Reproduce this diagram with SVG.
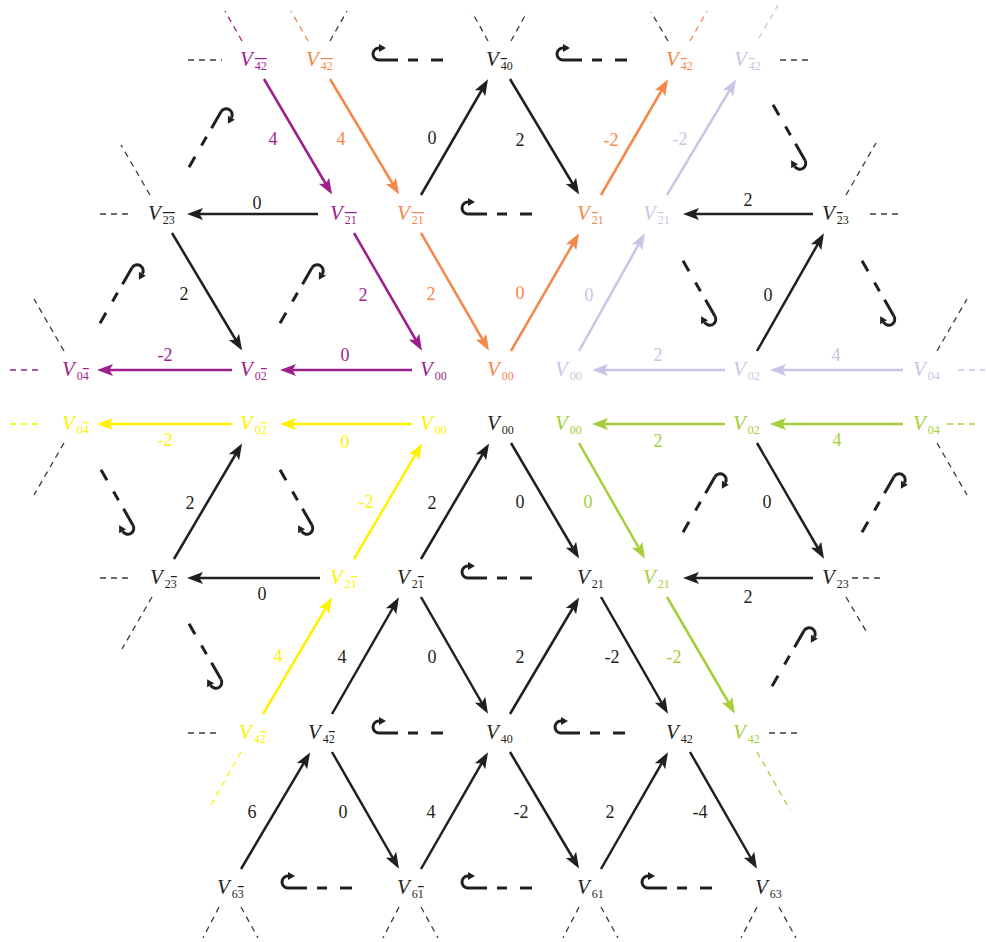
<svg xmlns="http://www.w3.org/2000/svg" xmlns:xlink="http://www.w3.org/1999/xlink" width="986" height="942" viewBox="0 0 986 942">
<style>
.n{font-family:"Liberation Serif","Times New Roman",serif;font-size:21px;font-style:italic}
.sb{font-size:12px;font-style:normal}
.o{text-decoration:overline}
.w{font-family:"Liberation Serif","Times New Roman",serif;font-size:18px;text-anchor:middle}
.a{fill:none;stroke-width:2.5}
.stub{fill:none;stroke-width:1.3;stroke-dasharray:6 5}
.k{stroke:#231f20}.kf{fill:#231f20}
.p{stroke:#9c1f8c}.pf{fill:#9c1f8c}
.or{stroke:#f5874b}.of{fill:#f5874b}
.l{stroke:#c8c6e6}.lf{fill:#c8c6e6}
.y{stroke:#fff200}.yf{fill:#fff200}
.g{stroke:#a6ce39}.gf{fill:#a6ce39}
.d{stroke:#3a3a3a}
</style>
<defs>
<marker id="mk" markerUnits="userSpaceOnUse" markerWidth="20" markerHeight="20" refX="6" refY="0" orient="auto" overflow="visible"><path d="M0,-6 L16,0 L0,6 L3.5,0 Z" fill="#231f20"/></marker>
<marker id="mp" markerUnits="userSpaceOnUse" markerWidth="20" markerHeight="20" refX="6" refY="0" orient="auto" overflow="visible"><path d="M0,-6 L16,0 L0,6 L3.5,0 Z" fill="#9c1f8c"/></marker>
<marker id="mo" markerUnits="userSpaceOnUse" markerWidth="20" markerHeight="20" refX="6" refY="0" orient="auto" overflow="visible"><path d="M0,-6 L16,0 L0,6 L3.5,0 Z" fill="#f5874b"/></marker>
<marker id="ml" markerUnits="userSpaceOnUse" markerWidth="20" markerHeight="20" refX="6" refY="0" orient="auto" overflow="visible"><path d="M0,-6 L16,0 L0,6 L3.5,0 Z" fill="#c8c6e6"/></marker>
<marker id="my" markerUnits="userSpaceOnUse" markerWidth="20" markerHeight="20" refX="6" refY="0" orient="auto" overflow="visible"><path d="M0,-6 L16,0 L0,6 L3.5,0 Z" fill="#fff200"/></marker>
<marker id="mg" markerUnits="userSpaceOnUse" markerWidth="20" markerHeight="20" refX="6" refY="0" orient="auto" overflow="visible"><path d="M0,-6 L16,0 L0,6 L3.5,0 Z" fill="#a6ce39"/></marker>
<g id="hook">
<path d="M-28,0 L36,0" fill="none" stroke="#231f20" stroke-width="3" stroke-dasharray="19 10 10 13 12"/>
<path d="M-28,0 A6,6 0 0 1 -28,-12" fill="none" stroke="#231f20" stroke-width="3"/>
<path d="M-21,-12 L-28,-16 L-28,-8 Z" fill="#231f20"/>
</g>
</defs>

<g id="connectors">
<!-- diagonal arrows -->
<path class="a k" marker-end="url(#mk)" d="M421,195 L483,88"/>
<path class="a k" marker-end="url(#mk)" d="M510,79 L574,186"/>
<path class="a p" marker-end="url(#mp)" d="M264,79 L327,186"/>
<path class="a or" marker-end="url(#mo)" d="M330,79 L394,186"/>
<path class="a p" marker-end="url(#mp)" d="M354,233 L417,342"/>
<path class="a or" marker-end="url(#mo)" d="M421,233 L484,342"/>
<path class="a or" marker-end="url(#mo)" d="M511,351 L574,242"/>
<path class="a or" marker-end="url(#mo)" d="M601,195 L663,88"/>
<path class="a l" marker-end="url(#ml)" d="M579,351 L640,242"/>
<path class="a l" marker-end="url(#ml)" d="M667,195 L731,88"/>
<path class="a k" marker-end="url(#mk)" d="M172,233 L237,342"/>
<path class="a k" marker-end="url(#mk)" d="M757,351 L819,242"/>
<path class="a k" marker-end="url(#mk)" d="M174,559 L237,452"/>
<path class="a y" marker-end="url(#my)" d="M354,559 L417,452"/>
<path class="a y" marker-end="url(#my)" d="M263,714 L327,606"/>
<path class="a k" marker-end="url(#mk)" d="M421,559 L484,452"/>
<path class="a k" marker-end="url(#mk)" d="M511,443 L574,550"/>
<path class="a g" marker-end="url(#mg)" d="M579,443 L640,550"/>
<path class="a k" marker-end="url(#mk)" d="M757,443 L819,550"/>
<path class="a g" marker-end="url(#mg)" d="M667,597 L730,705"/>
<path class="a k" marker-end="url(#mk)" d="M601,597 L663,705"/>
<path class="a k" marker-end="url(#mk)" d="M510,714 L574,606"/>
<path class="a k" marker-end="url(#mk)" d="M421,597 L483,705"/>
<path class="a k" marker-end="url(#mk)" d="M332,714 L394,606"/>
<path class="a k" marker-end="url(#mk)" d="M241,869 L305,761"/>
<path class="a k" marker-end="url(#mk)" d="M332,752 L394,860"/>
<path class="a k" marker-end="url(#mk)" d="M421,869 L483,761"/>
<path class="a k" marker-end="url(#mk)" d="M510,752 L574,860"/>
<path class="a k" marker-end="url(#mk)" d="M601,869 L663,761"/>
<path class="a k" marker-end="url(#mk)" d="M690,752 L752,860"/>
<!-- horizontal arrows -->
<path class="a k" marker-end="url(#mk)" d="M318,214 L197,214"/>
<path class="a k" marker-end="url(#mk)" d="M813,214 L693,214"/>
<path class="a p" marker-end="url(#mp)" d="M412,370 L290,370"/>
<path class="a p" marker-end="url(#mp)" d="M232,370 L107,370"/>
<path class="a l" marker-end="url(#ml)" d="M725,370 L602,370"/>
<path class="a l" marker-end="url(#ml)" d="M903,370 L780,370"/>
<path class="a y" marker-end="url(#my)" d="M412,424 L290,424"/>
<path class="a y" marker-end="url(#my)" d="M232,424 L107,424"/>
<path class="a g" marker-end="url(#mg)" d="M725,424 L602,424"/>
<path class="a g" marker-end="url(#mg)" d="M903,424 L780,424"/>
<path class="a k" marker-end="url(#mk)" d="M320,578 L197,578"/>
<path class="a k" marker-end="url(#mk)" d="M813,578 L693,578"/>
<!-- hooked dashed edges -->
<use xlink:href="#hook" transform="translate(407,60)"/>
<use xlink:href="#hook" transform="translate(591,60)"/>
<use xlink:href="#hook" transform="translate(496,214)"/>
<use xlink:href="#hook" transform="translate(496,578)"/>
<use xlink:href="#hook" transform="translate(407,733)"/>
<use xlink:href="#hook" transform="translate(589,733)"/>
<use xlink:href="#hook" transform="translate(316,888)"/>
<use xlink:href="#hook" transform="translate(496,888)"/>
<use xlink:href="#hook" transform="translate(676,888)"/>
<use xlink:href="#hook" transform="translate(207,136) rotate(120)"/>
<use xlink:href="#hook" transform="translate(118,292) rotate(120)"/>
<use xlink:href="#hook" transform="translate(298,292) rotate(120)"/>
<use xlink:href="#hook" transform="translate(791,136) rotate(240)"/>
<use xlink:href="#hook" transform="translate(701,292) rotate(240)"/>
<use xlink:href="#hook" transform="translate(880,292) rotate(240)"/>
<use xlink:href="#hook" transform="translate(119,501) rotate(240)"/>
<use xlink:href="#hook" transform="translate(298,501) rotate(240)"/>
<use xlink:href="#hook" transform="translate(701,501) rotate(120)"/>
<use xlink:href="#hook" transform="translate(880,501) rotate(120)"/>
<use xlink:href="#hook" transform="translate(790,655) rotate(120)"/>
<use xlink:href="#hook" transform="translate(207,655) rotate(240)"/>
<!-- dashed stubs -->
<path class="stub p" d="M242,41 L225,11"/>
<path class="stub d" d="M188,60 L222,60"/>
<path class="stub or" d="M308,41 L291,11"/>
<path class="stub d" d="M330,41 L347,11"/>
<path class="stub d" d="M488,41 L472,12"/>
<path class="stub d" d="M511,41 L527,12"/>
<path class="stub d" d="M668,41 L651,12"/>
<path class="stub or" d="M690,41 L707,11"/>
<path class="stub l" d="M759,38 L778,5"/>
<path class="stub d" d="M780,60 L813,60"/>
<path class="stub d" d="M100,214 L133,214"/>
<path class="stub d" d="M150,195 L121,145"/>
<path class="stub d" d="M870,214 L903,214"/>
<path class="stub d" d="M846,195 L876,143"/>
<path class="stub p" d="M10,370 L43,370"/>
<path class="stub d" d="M64,351 L34,299"/>
<path class="stub l" d="M958,370 L985,370"/>
<path class="stub d" d="M937,351 L967,299"/>
<path class="stub y" d="M10,424 L43,424"/>
<path class="stub d" d="M64,443 L34,495"/>
<path class="stub g" d="M947,424 L980,424"/>
<path class="stub d" d="M937,443 L967,495"/>
<path class="stub d" d="M100,578 L133,578"/>
<path class="stub d" d="M152,597 L122,649"/>
<path class="stub d" d="M852,578 L884,578"/>
<path class="stub d" d="M846,597 L866,631"/>
<path class="stub d" d="M188,733 L221,733"/>
<path class="stub y" d="M241,752 L211,805"/>
<path class="stub d" d="M769,733 L802,733"/>
<path class="stub g" d="M757,752 L790,810"/>
<path class="stub d" d="M219,907 L203,938"/>
<path class="stub d" d="M241,907 L258,938"/>
<path class="stub d" d="M399,907 L383,938"/>
<path class="stub d" d="M421,907 L438,938"/>
<path class="stub d" d="M579,907 L563,938"/>
<path class="stub d" d="M601,907 L618,938"/>
<path class="stub d" d="M757,907 L741,938"/>
<path class="stub d" d="M779,907 L796,938"/>
</g>

<g id="weights">
<text class="w pf" x="273" y="145">4</text>
<text class="w of" x="341" y="145">4</text>
<text class="w kf" x="432" y="144">0</text>
<text class="w kf" x="520" y="146">2</text>
<text class="w of" x="611" y="146">-2</text>
<text class="w lf" x="680" y="145">-2</text>
<text class="w kf" x="257" y="209">0</text>
<text class="w kf" x="748" y="206">2</text>
<text class="w kf" x="184" y="300">2</text>
<text class="w pf" x="363" y="301">2</text>
<text class="w of" x="431" y="300">2</text>
<text class="w of" x="520" y="299">0</text>
<text class="w lf" x="589" y="301">0</text>
<text class="w kf" x="768" y="301">0</text>
<text class="w pf" x="165" y="361">-2</text>
<text class="w pf" x="345" y="361">0</text>
<text class="w lf" x="658" y="361">2</text>
<text class="w lf" x="836" y="361">4</text>
<text class="w yf" x="165" y="446">-2</text>
<text class="w yf" x="345" y="448">0</text>
<text class="w gf" x="658" y="447">2</text>
<text class="w gf" x="837" y="446">4</text>
<text class="w kf" x="190" y="509">2</text>
<text class="w yf" x="366" y="508">-2</text>
<text class="w kf" x="432" y="509">2</text>
<text class="w kf" x="520" y="508">0</text>
<text class="w gf" x="588" y="508">0</text>
<text class="w kf" x="767" y="508">0</text>
<text class="w kf" x="262" y="600">0</text>
<text class="w kf" x="748" y="603">2</text>
<text class="w yf" x="278" y="662">4</text>
<text class="w kf" x="342" y="663">4</text>
<text class="w kf" x="432" y="663">0</text>
<text class="w kf" x="520" y="663">2</text>
<text class="w kf" x="612" y="663">-2</text>
<text class="w gf" x="674" y="663">-2</text>
<text class="w kf" x="252" y="818">6</text>
<text class="w kf" x="343" y="818">0</text>
<text class="w kf" x="431" y="818">4</text>
<text class="w kf" x="521" y="818">-2</text>
<text class="w kf" x="610" y="818">2</text>
<text class="w kf" x="700" y="818">-4</text>
</g>

<g id="nodes">
<g id="nP42"><text class="n pf" x="240" y="66">V<tspan class="sb" dx="2" dy="4"><tspan class="o">42</tspan></tspan></text></g>
<g id="nO42"><text class="n of" x="306" y="66">V<tspan class="sb" dx="2" dy="4"><tspan class="o">42</tspan></tspan></text></g>
<g id="nB40"><text class="n kf" x="486" y="66">V<tspan class="sb" dx="2" dy="4"><tspan class="o">4</tspan>0</tspan></text></g>
<g id="nO42r"><text class="n of" x="666" y="66">V<tspan class="sb" dx="2" dy="4"><tspan class="o">4</tspan>2</tspan></text></g>
<g id="nL42"><text class="n lf" x="734" y="66">V<tspan class="sb" dx="2" dy="4"><tspan class="o">4</tspan>2</tspan></text></g>

<g id="nB23L"><text class="n kf" x="148" y="220">V<tspan class="sb" dx="2" dy="4"><tspan class="o">23</tspan></tspan></text></g>
<g id="nP21"><text class="n pf" x="330" y="220">V<tspan class="sb" dx="2" dy="4"><tspan class="o">21</tspan></tspan></text></g>
<g id="nO21L"><text class="n of" x="397" y="220">V<tspan class="sb" dx="2" dy="4"><tspan class="o">21</tspan></tspan></text></g>
<g id="nO21R"><text class="n of" x="577" y="220">V<tspan class="sb" dx="2" dy="4"><tspan class="o">2</tspan>1</tspan></text></g>
<g id="nL21"><text class="n lf" x="643" y="220">V<tspan class="sb" dx="2" dy="4"><tspan class="o">2</tspan>1</tspan></text></g>
<g id="nB23R"><text class="n kf" x="822" y="220">V<tspan class="sb" dx="2" dy="4"><tspan class="o">2</tspan>3</tspan></text></g>

<g id="nP04"><text class="n pf" x="62" y="376">V<tspan class="sb" dx="2" dy="4">0<tspan class="o">4</tspan></tspan></text></g>
<g id="nP02"><text class="n pf" x="240" y="376">V<tspan class="sb" dx="2" dy="4">0<tspan class="o">2</tspan></tspan></text></g>
<g id="nP00"><text class="n pf" x="420" y="376">V<tspan class="sb" dx="2" dy="4">00</tspan></text></g>
<g id="nO00"><text class="n of" x="487" y="376">V<tspan class="sb" dx="2" dy="4">00</tspan></text></g>
<g id="nL00"><text class="n lf" x="555" y="376">V<tspan class="sb" dx="2" dy="4">00</tspan></text></g>
<g id="nL02"><text class="n lf" x="733" y="376">V<tspan class="sb" dx="2" dy="4">02</tspan></text></g>
<g id="nL04"><text class="n lf" x="913" y="376">V<tspan class="sb" dx="2" dy="4">04</tspan></text></g>

<g id="nY04"><text class="n yf" x="62" y="430">V<tspan class="sb" dx="2" dy="4">0<tspan class="o">4</tspan></tspan></text></g>
<g id="nY02"><text class="n yf" x="240" y="430">V<tspan class="sb" dx="2" dy="4">0<tspan class="o">2</tspan></tspan></text></g>
<g id="nY00"><text class="n yf" x="420" y="430">V<tspan class="sb" dx="2" dy="4">00</tspan></text></g>
<g id="nB00"><text class="n kf" x="487" y="430">V<tspan class="sb" dx="2" dy="4">00</tspan></text></g>
<g id="nG00"><text class="n gf" x="555" y="430">V<tspan class="sb" dx="2" dy="4">00</tspan></text></g>
<g id="nG02"><text class="n gf" x="733" y="430">V<tspan class="sb" dx="2" dy="4">02</tspan></text></g>
<g id="nG04"><text class="n gf" x="913" y="430">V<tspan class="sb" dx="2" dy="4">04</tspan></text></g>

<g id="nB23Lb"><text class="n kf" x="150" y="584">V<tspan class="sb" dx="2" dy="4">2<tspan class="o">3</tspan></tspan></text></g>
<g id="nY21"><text class="n yf" x="330" y="584">V<tspan class="sb" dx="2" dy="4">2<tspan class="o">1</tspan></tspan></text></g>
<g id="nB21L"><text class="n kf" x="397" y="584">V<tspan class="sb" dx="2" dy="4">2<tspan class="o">1</tspan></tspan></text></g>
<g id="nB21R"><text class="n kf" x="577" y="584">V<tspan class="sb" dx="2" dy="4">21</tspan></text></g>
<g id="nG21"><text class="n gf" x="643" y="584">V<tspan class="sb" dx="2" dy="4">21</tspan></text></g>
<g id="nB23Rb"><text class="n kf" x="822" y="584">V<tspan class="sb" dx="2" dy="4">23</tspan></text></g>

<g id="nY42"><text class="n yf" x="239" y="739">V<tspan class="sb" dx="2" dy="4">4<tspan class="o">2</tspan></tspan></text></g>
<g id="nB42L"><text class="n kf" x="308" y="739">V<tspan class="sb" dx="2" dy="4">4<tspan class="o">2</tspan></tspan></text></g>
<g id="nB40b"><text class="n kf" x="486" y="739">V<tspan class="sb" dx="2" dy="4">40</tspan></text></g>
<g id="nB42R"><text class="n kf" x="666" y="739">V<tspan class="sb" dx="2" dy="4">42</tspan></text></g>
<g id="nG42"><text class="n gf" x="733" y="739">V<tspan class="sb" dx="2" dy="4">42</tspan></text></g>

<g id="nB63L"><text class="n kf" x="217" y="894">V<tspan class="sb" dx="2" dy="4">6<tspan class="o">3</tspan></tspan></text></g>
<g id="nB61L"><text class="n kf" x="397" y="894">V<tspan class="sb" dx="2" dy="4">6<tspan class="o">1</tspan></tspan></text></g>
<g id="nB61R"><text class="n kf" x="577" y="894">V<tspan class="sb" dx="2" dy="4">61</tspan></text></g>
<g id="nB63R"><text class="n kf" x="755" y="894">V<tspan class="sb" dx="2" dy="4">63</tspan></text></g>
</g>
</svg>
